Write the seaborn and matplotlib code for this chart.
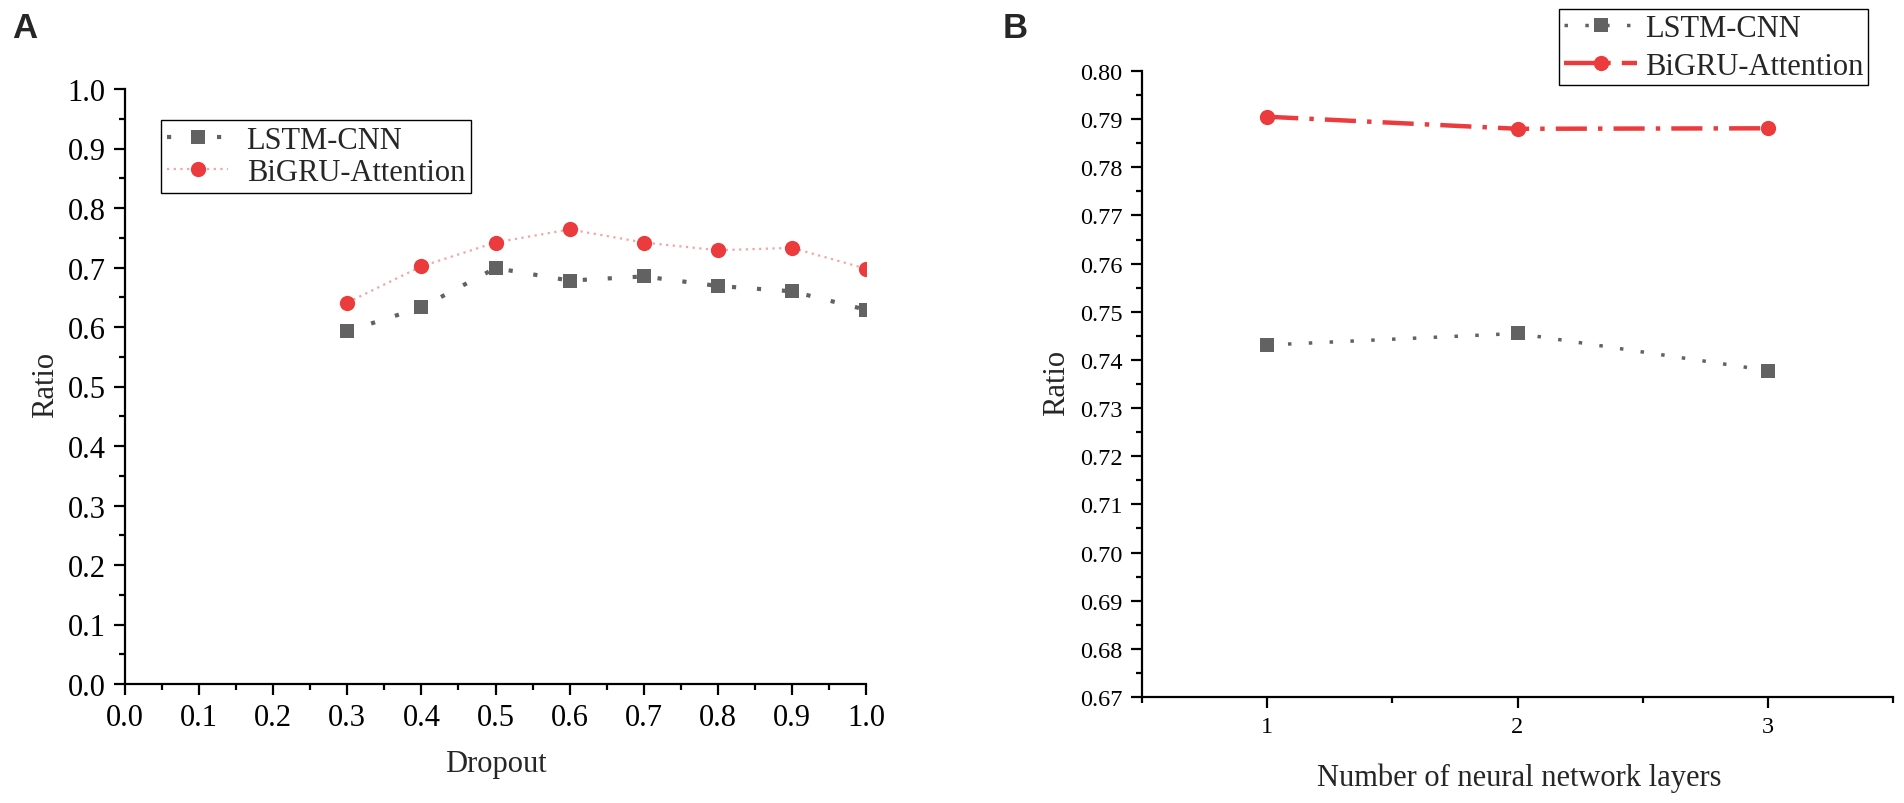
import matplotlib
matplotlib.use("Agg")
import matplotlib.pyplot as plt
import seaborn as sns
import pandas as pd
from matplotlib.ticker import MultipleLocator, FixedLocator, FormatStrFormatter

# panel A: dropout sweep
dropout = [0.3, 0.4, 0.5, 0.6, 0.7, 0.8, 0.9, 1.0]
lstm_cnn_a = [0.593, 0.633, 0.699, 0.678, 0.685, 0.669, 0.660, 0.629]
bigru_att_a = [0.641, 0.702, 0.742, 0.764, 0.742, 0.729, 0.733, 0.698]

# panel B: number of layers
layers = [1, 2, 3]
lstm_cnn_b = [0.7431, 0.7455, 0.7378]
bigru_att_b = [0.7905, 0.7880, 0.7881]

series_names = ["LSTM-CNN", "BiGRU-Attention"]

red = "#ec3b3d"
pink = "#f3a4a4"
gray = "#626262"

sns.set_theme(style="ticks")
plt.rcParams["font.family"] = ["Liberation Serif", "DejaVu Serif"]
plt.rcParams["axes.linewidth"] = 1.6
for k in ["xtick.major.width", "ytick.major.width", "xtick.minor.width", "ytick.minor.width"]:
    plt.rcParams[k] = 1.6

df_a = pd.DataFrame({"Dropout": dropout, "lstm": lstm_cnn_a, "bigru": bigru_att_a})
df_b = pd.DataFrame({"Layers": layers, "lstm": lstm_cnn_b, "bigru": bigru_att_b})

fig = plt.figure(figsize=(19.04, 8.04), dpi=100)
ax1 = fig.add_axes([125 / 1904, 1 - 685 / 804, 741 / 1904, 595 / 804])
ax2 = fig.add_axes([1142 / 1904, 1 - 698 / 804, 751 / 1904, 626 / 804])

# --- A ---
sns.lineplot(data=df_a, x="Dropout", y="lstm", ax=ax1, color=gray, lw=3,
             linestyle=(0, (1, 5)), marker="s", markersize=10,
             markeredgewidth=0, label=series_names[0])
sns.lineplot(data=df_a, x="Dropout", y="bigru", ax=ax1, color=pink, lw=1.6,
             linestyle=(0, (1, 2)), marker="o", markersize=11,
             markerfacecolor=red, markeredgecolor=red, markeredgewidth=0,
             label=series_names[1])
ax1.set_xlim(0, 1.0)
ax1.set_ylim(0, 1.0)
ax1.xaxis.set_major_locator(MultipleLocator(0.1))
ax1.xaxis.set_minor_locator(MultipleLocator(0.05))
ax1.yaxis.set_major_locator(MultipleLocator(0.1))
ax1.yaxis.set_minor_locator(MultipleLocator(0.05))
ax1.xaxis.set_major_formatter(FormatStrFormatter("%.1f"))
ax1.yaxis.set_major_formatter(FormatStrFormatter("%.1f"))
ax1.set_xlabel("Dropout", fontsize=22)
ax1.set_ylabel("Ratio", fontsize=22)
ax1.xaxis.set_label_coords(0.5, -0.109)
ax1.yaxis.set_label_coords(-0.088, 0.504)
ax1.tick_params(axis="both", which="major", labelsize=22)
leg1 = ax1.legend(loc="upper left", bbox_to_anchor=(0.0486, 0.948), fontsize=22,
                  frameon=True, fancybox=False, edgecolor="black", framealpha=1,
                  borderaxespad=0, handlelength=2.0, labelspacing=0.1,
                  borderpad=0.2, handletextpad=0.6)
leg1.get_frame().set_linewidth(1.0)

# --- B ---
sns.lineplot(data=df_b, x="Layers", y="lstm", ax=ax2, color=gray, lw=2.5,
             linestyle=(0, (1, 5)), marker="s", markersize=10,
             markeredgewidth=0, label=series_names[0])
sns.lineplot(data=df_b, x="Layers", y="bigru", ax=ax2, color=red, lw=3.2,
             linestyle=(0, (7, 2.5, 1, 2.5)), marker="o", markersize=11,
             markeredgewidth=0, label=series_names[1])
ax2.set_xlim(0.5, 3.5)
ax2.set_ylim(0.67, 0.80)
ax2.xaxis.set_major_locator(FixedLocator(layers))
ax2.xaxis.set_minor_locator(FixedLocator([0.5, 1.5, 2.5, 3.5]))
ax2.yaxis.set_major_locator(MultipleLocator(0.01))
ax2.yaxis.set_minor_locator(MultipleLocator(0.005))
ax2.yaxis.set_major_formatter(FormatStrFormatter("%.2f"))
ax2.set_xlabel("Number of neural network layers", fontsize=22)
ax2.set_ylabel("Ratio", fontsize=22)
ax2.xaxis.set_label_coords(0.502, -0.104)
ax2.yaxis.set_label_coords(-0.094, 0.503)
ax2.tick_params(axis="both", which="major", labelsize=17.5)
leg2 = ax2.legend(loc="upper right", bbox_to_anchor=(0.9667, 1.099), fontsize=22,
                  frameon=True, fancybox=False, edgecolor="black", framealpha=1,
                  borderaxespad=0, handlelength=2.4, labelspacing=0.3,
                  borderpad=0.15, handletextpad=0.25)
leg2.get_frame().set_linewidth(1.0)

for ax in (ax1, ax2):
    sns.despine(ax=ax)
    ax.tick_params(axis="both", which="major", direction="out", length=8,
                   pad=6, color="black", labelcolor="black")
    ax.tick_params(axis="both", which="minor", direction="out", length=4.5,
                   color="black")
    for s in ("left", "bottom"):
        ax.spines[s].set_color("black")
    ax.grid(False)

fig.text(12 / 1904, 1 - 12 / 804, "A", fontsize=25, fontweight="bold",
         family="Liberation Sans", va="top", ha="left")
fig.text(1003 / 1904, 1 - 12 / 804, "B", fontsize=25, fontweight="bold",
         family="Liberation Sans", va="top", ha="left")

fig.savefig("out.png", dpi=100, facecolor="white")
